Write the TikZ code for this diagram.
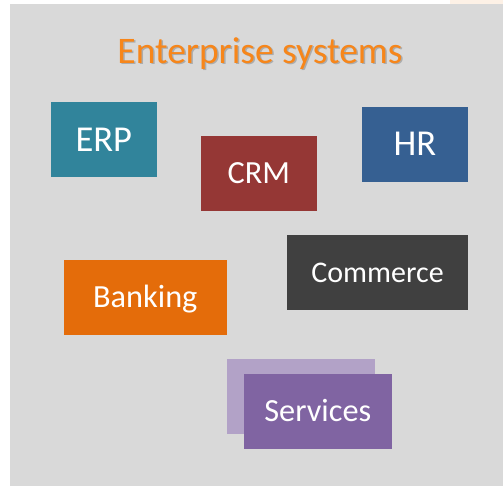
\documentclass[tikz,border=0pt]{standalone}
\usepackage{fontspec}
\setmainfont{Carlito}
\definecolor{bggray}{HTML}{D9D9D9}
\definecolor{erpc}{HTML}{31849B}
\definecolor{crmc}{HTML}{953735}
\definecolor{hrc}{HTML}{366092}
\definecolor{comc}{HTML}{404040}
\definecolor{bankc}{HTML}{E46C0A}
\definecolor{servc}{HTML}{8064A2}
\definecolor{servbackc}{HTML}{B2A2C7}
\definecolor{titlec}{HTML}{F7861A}
\definecolor{peach}{HTML}{FDF1E6}
\tikzset{
  sysbox/.style={rectangle, inner sep=0pt, text=white, align=center,
    text height=20.8bp, text depth=0pt, font=\fontsize{32.3bp}{38bp}\selectfont},
  bigbox/.style={sysbox, text height=23.5bp, font=\fontsize{36.5bp}{42bp}\selectfont},
  midbox/.style={sysbox, text height=19.3bp, font=\fontsize{30bp}{36bp}\selectfont},
  plainbox/.style={rectangle, inner sep=0pt},
  titlestyle/.style={font=\fontsize{37.5bp}{44bp}\selectfont, text height=24.2bp, text depth=0pt, inner sep=0pt}
}
\begin{document}
\begin{tikzpicture}[x=1bp,y=-1bp]
\useasboundingbox (0,0) rectangle (503,486);
\fill[peach] (450,0) rectangle (503,4);
\fill[bggray] (10,4) rectangle (503,486);
% title with shadow
\node[titlestyle, text=black!50, opacity=0.5] (titleshadow) at (261.5,52.5) {Enterprise systems};
\node[titlestyle, text=titlec] (title) at (260,51) {Enterprise systems};
% boxes
\node[bigbox, fill=erpc, minimum width=105.7bp, minimum height=74.7bp] (erp) at (103.8,139.3) {ERP};
\node[sysbox, fill=crmc, minimum width=115.7bp, minimum height=74.7bp] (crm) at (258.8,173.3) {CRM};
\node[bigbox, fill=hrc, minimum width=106bp, minimum height=75bp] (hr) at (415,144.2) {HR};
\node[midbox, fill=comc, minimum width=181bp, minimum height=75bp] (commerce) at (377.5,272.5) {Commerce};
\node[sysbox, fill=bankc, minimum width=162.7bp, minimum height=74.7bp] (banking) at (145.3,297.3) {Banking};
\node[plainbox, fill=servbackc, minimum width=148.3bp, minimum height=75bp] (servback) at (300.8,396.5) {};
\node[sysbox, fill=servc, minimum width=147.7bp, minimum height=75bp] (services) at (317.8,411.2) {Services};
\end{tikzpicture}
\end{document}
